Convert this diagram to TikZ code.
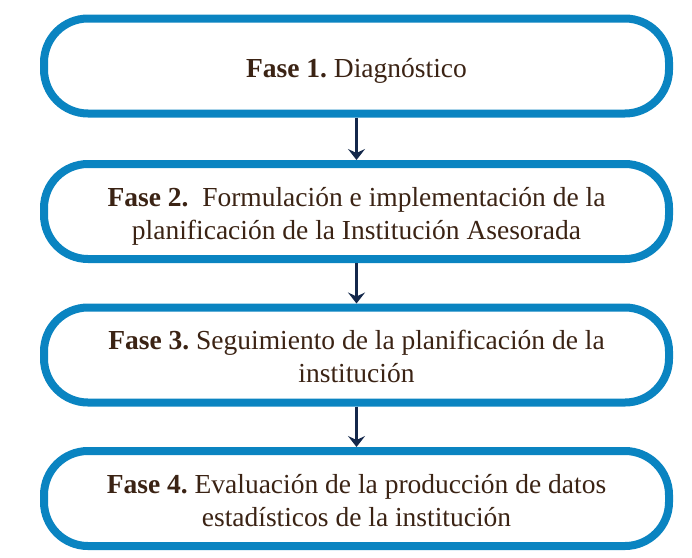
\documentclass[tikz,border=0pt]{standalone}
\usepackage{fontspec}
\setmainfont{Liberation Serif}
\frenchspacing
\usetikzlibrary{arrows.meta}
\definecolor{boxblue}{HTML}{0A84C1}
\definecolor{arrownavy}{HTML}{14284B}
\definecolor{txtbrown}{HTML}{3B2314}
\newcommand\phasetext[1]{\raisebox{-4.5pt}[\height][\depth]{\begin{tabular}{@{}c@{}}#1\end{tabular}}}
\tikzset{
  phase/.style={draw=boxblue, line width=8pt, rounded corners=44pt, fill=white,
    minimum width=625pt, minimum height=95pt, text=txtbrown,
    font=\fontsize{27.5}{33}\selectfont, inner sep=0pt},
  flow/.style={draw=arrownavy, line width=3pt, -{Stealth[length=11pt,width=17pt,inset=4pt]}}
}
\begin{document}
\begin{tikzpicture}[x=1pt,y=-1pt]
\useasboundingbox (0,0) rectangle (692,557);
\node[phase] (b1) at (356.5,66) {\phasetext{\textbf{Fase 1.} Diagnóstico}};
\node[phase] (b2) at (356.5,211.5) {\phasetext{\textbf{Fase 2.}\ \ Formulación e implementación de la\\planificación de la Institución Asesorada}};
\node[phase] (b3) at (356.5,355) {\phasetext{\textbf{Fase 3.} Seguimiento de la planificación de la\\institución}};
\node[phase] (b4) at (356.5,498.5) {\phasetext{\textbf{Fase 4.} Evaluación de la producción de datos\\estadísticos de la institución}};
\draw[flow] (b1.south) -- (b2.north);
\draw[flow] (b2.south) -- (b3.north);
\draw[flow] (b3.south) -- (b4.north);
\end{tikzpicture}
\end{document}
